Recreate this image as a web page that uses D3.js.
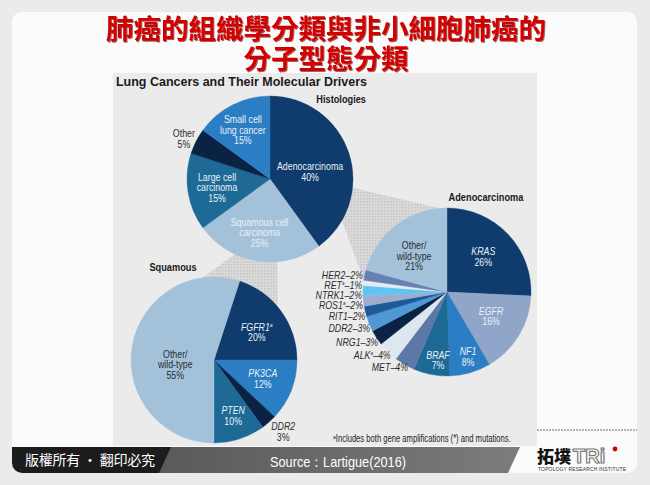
<!DOCTYPE html>
<meta charset='utf-8'>
<head>
    <title>Lung Cancers and Their Molecular Drivers</title>
    <script src='https://cdn.jsdelivr.net/npm/d3@7'></script>
</head>

<style>
    body { margin: 0; background: #ebebeb; }
    svg { display: block; }
    .lbl { font-family: 'Liberation Sans', Arial, sans-serif; font-size: 10.5px; }
    .hdr { font-family: 'Liberation Sans', Arial, sans-serif; font-size: 11px; font-weight: bold; fill: #1a1a1a; }
</style>

<svg></svg>

<script>
    var titleLines = ['肺癌的組織學分類與非小細胞肺癌的', '分子型態分類'];
    var chartTitle = 'Lung Cancers and Their Molecular Drivers';

    // Histologies
    var histNames = ['Adenocarcinoma', 'Squamous cell\ncarcinoma', 'Large cell\ncarcinoma', 'Other', 'Small cell\nlung cancer'];
    var histValues = [40, 25, 15, 5, 15];

    // Adenocarcinoma drivers
    var adenoNames = ['KRAS', 'EGFR', 'NF1', 'BRAF', 'MET', 'ALK', 'NRG1', 'DDR2', 'RIT1', 'ROS1', 'NTRK1', 'RET', 'HER2', 'Other/\nwild-type'];
    var adenoValues = [26, 16, 8, 7, 4, 4, 3, 3, 2, 2, 2, 1, 2, 21];

    // Squamous drivers
    var squamNames = ['FGFR1', 'PK3CA', 'DDR2', 'PTEN', 'Other/\nwild-type'];
    var squamValues = [20, 12, 3, 10, 55];

    var amplified = ['FGFR1', 'ALK', 'ROS1', 'RET'];
    var footnote = 'Includes both gene amplifications (*) and mutations.';

    // colours
    var navy = '#0f3b6d', light = '#a3c2da', teal = '#1d6a97', ink = '#0a2244', mid = '#2b7ec3';
    var histColors = [navy, light, teal, ink, mid];
    var adenoColors = [navy, '#8fa6c9', mid, teal, '#5c78a7', '#dce7ef', ink, '#4f98d4', '#1c5a9a', '#a0abcd', '#5fc4f0', '#e4ecf3', '#6781b0', light];
    var squamColors = [navy, mid, ink, teal, light];

    var W = 650, H = 485, NARROW = 0.84;
    var svg = d3.select('svg').attr('width', W).attr('height', H);
    var rad = Math.PI / 180;

    var defs = svg.append('defs');
    var pat = defs.append('pattern').attr('id', 'dots').attr('width', 3).attr('height', 3).attr('patternUnits', 'userSpaceOnUse');
    pat.append('rect').attr('width', 3).attr('height', 3).attr('fill', '#dadada');
    pat.append('rect').attr('width', 1.5).attr('height', 1.5).attr('fill', '#c4c4c4');
    defs.append('clipPath').attr('id', 'panelClip').append('rect')
        .attr('x', 12).attr('y', 12).attr('width', 625).attr('height', 461).attr('rx', 10);
    var grad = defs.append('linearGradient').attr('id', 'barGrad');
    grad.append('stop').attr('offset', '0%').attr('stop-color', '#5a5a5a');
    grad.append('stop').attr('offset', '100%').attr('stop-color', '#7c7c7c');
    defs.append('filter').attr('id', 'shadow').append('feDropShadow')
        .attr('dx', 1).attr('dy', 1).attr('stdDeviation', 0.3).attr('flood-color', '#600000').attr('flood-opacity', 0.6);

    // white slide panel
    svg.append('rect').attr('x', 12).attr('y', 12).attr('width', 625).attr('height', 461).attr('rx', 10).attr('fill', '#fbfbfb');

    // title
    titleLines.forEach(function (s, i) {
        svg.append('text').attr('x', 326).attr('y', 39 + i * 30).attr('text-anchor', 'middle')
            .attr('font-family', 'Noto Sans CJK TC').attr('font-weight', 700).attr('font-size', 27.5)
            .attr('fill', '#d40000').attr('filter', 'url(#shadow)').text(s);
    });

    // chart picture
    svg.append('rect').attr('x', 113).attr('y', 73).attr('width', 424).attr('height', 373).attr('fill', '#ebebeb');
    svg.append('text').attr('x', 116).attr('y', 86).attr('font-family', 'Liberation Sans, sans-serif')
        .attr('font-weight', 'bold').attr('font-size', 13).attr('fill', '#1a1a1a')
        .attr('textLength', 251).attr('lengthAdjust', 'spacingAndGlyphs').text(chartTitle);

    var pies = {
        hist: {cx: 270, cy: 179, r: 83, start: 0, names: histNames, values: histValues, colors: histColors,
            // label angle (deg), radius fraction, dark text
            lab: [[80, 0.49], [191, 0.655], [261, 0.646], [295, 1.145, 1], [331, 0.675]], italic: false},
        adeno: {cx: 447, cy: 292, r: 84, start: 0, names: adenoNames, values: adenoValues, colors: adenoColors,
            lab: [[46, 0.6], [119, 0.6], [162, 0.81], [187.5, 0.82], null, null, null, null, null, null, null, null, null, [317.5, 0.58, 1]], italic: true},
        squam: {cx: 214, cy: 360, r: 83, start: 18, names: squamNames, values: squamValues, colors: squamColors,
            lab: [[57, 0.615], [111, 0.63], [136, 1.2, 1], [161, 0.71], [263, 0.47, 1]], italic: true}
    };

    function arcsOf(p) {
        return d3.pie().sort(null).value(function (d) { return d; })
            .startAngle(p.start * rad).endAngle(p.start * rad + 2 * Math.PI)(p.values);
    }
    function pt(p, deg, r) {
        var q = d3.pointRadial(deg * rad, r);
        return [p.cx + q[0], p.cy + q[1]];
    }
    // condensed text placed at x, y
    function ntext(x, y, cls) {
        return svg.append('text').attr('class', cls || 'lbl')
            .attr('transform', 'translate(' + x + ',' + y + ') scale(' + NARROW + ',1)');
    }

    // connectors drawn under the pies
    function connector(a, a1, a2, b, b1, b2) {
        var pts = [pt(a, a1, a.r), pt(b, b1, b.r), pt(b, b2, b.r), pt(a, a2, a.r)];
        svg.append('path').attr('d', d3.line()(pts) + 'Z').attr('fill', 'url(#dots)');
    }
    connector(pies.hist, 96, 120, pies.adeno, 355, 278);
    connector(pies.hist, 175, 205, pies.squam, 50, 352);

    function drawPie(p) {
        var arcs = arcsOf(p);
        var arc = d3.arc().innerRadius(0).outerRadius(p.r);
        var g = svg.append('g').attr('transform', 'translate(' + p.cx + ',' + p.cy + ')');
        g.selectAll('path').data(arcs).enter().append('path')
            .attr('d', arc)
            .attr('fill', function (d, i) { return p.colors[i]; })
            .attr('stroke', function (d, i) { return p.colors[i]; })
            .attr('stroke-width', 0.4);

        var rim = [];
        arcs.forEach(function (d, i) {
            var L = p.lab[i];
            var name = p.names[i];
            if (!L) {
                // small adeno slices: one line at the left rim
                var midDeg = (d.startAngle + d.endAngle) / 2 / rad - 3;
                var q = pt(p, midDeg, p.r + 1);
                rim.push({x: q[0], y: q[1], name: name, v: p.values[i]});
                return;
            }
            var q2 = pt(p, L[0], L[1] * p.r);
            var lines = name.split('\n');
            lines.push(p.values[i] + '%');
            var italic = p.italic && name.indexOf('Other') < 0;
            var lh = 10.5;
            var t2 = ntext(q2[0], q2[1]).attr('text-anchor', 'middle')
                .attr('fill', L[2] ? '#2b2b2b' : '#eaf0f6');
            lines.forEach(function (s, j) {
                var ts = t2.append('tspan').attr('x', 0).attr('y', -(lines.length - 1) * lh / 2 + j * lh).attr('dy', '0.35em').text(s);
                if (italic && j < lines.length - 1) ts.attr('font-style', 'italic');
                if (j === 0 && amplified.indexOf(s) >= 0) {
                    t2.append('tspan').attr('font-size', 6).attr('dy', -4).attr('font-style', 'italic').text('a');
                }
            });
        });

        // spread the rim labels upward so they keep clear of each other
        rim.sort(function (a, b) { return b.y - a.y; });
        rim.forEach(function (o, k) {
            if (k > 0) o.y = Math.min(o.y, rim[k - 1].y - 10);
            var t = ntext(o.x, o.y).attr('dy', '0.35em').attr('font-size', 9.6)
                .attr('text-anchor', 'end').attr('font-style', 'italic').attr('fill', '#2b2b2b');
            t.append('tspan').text(o.name);
            if (amplified.indexOf(o.name) >= 0) {
                t.append('tspan').attr('font-size', 5.5).attr('dy', -4).text('a');
                t.append('tspan').attr('dy', 4).text('\u2013' + o.v + '%');
            } else {
                t.append('tspan').text('\u2013' + o.v + '%');
            }
        });
    }
    drawPie(pies.hist);
    drawPie(pies.adeno);
    drawPie(pies.squam);

    ntext(366, 99, 'hdr').attr('dy', '0.35em').attr('text-anchor', 'end').text('Histologies');
    ntext(486, 197, 'hdr').attr('dy', '0.35em').attr('text-anchor', 'middle').text('Adenocarcinoma');
    ntext(173, 267, 'hdr').attr('dy', '0.35em').attr('text-anchor', 'middle').text('Squamous');

    var fn = svg.append('text').attr('class', 'lbl').attr('x', 333).attr('y', 442)
        .attr('font-size', 8).attr('fill', '#222');
    fn.append('tspan').attr('font-size', 5).attr('dy', -3).text('a');
    fn.append('tspan').attr('dy', 3).attr('textLength', 175).attr('lengthAdjust', 'spacingAndGlyphs').text(footnote);

    // footer bar
    var foot = svg.append('g').attr('clip-path', 'url(#panelClip)');
    foot.append('path').attr('d', 'M0,447H176L164,473H0Z').attr('fill', '#1c1c1c');
    foot.append('path').attr('d', 'M171,447H520L508,473H159Z').attr('fill', 'url(#barGrad)');
    foot.append('text').attr('x', 25).attr('y', 465).attr('font-family', 'Noto Sans CJK TC').attr('font-size', 14)
        .attr('fill', '#fff').attr('textLength', 130).text('版權所有 · 翻印必究');
    foot.append('text').attr('x', 338).attr('y', 467).attr('text-anchor', 'middle')
        .attr('font-family', 'Liberation Sans, sans-serif').attr('font-size', 15)
        .attr('textLength', 136).attr('lengthAdjust', 'spacingAndGlyphs')
        .attr('fill', '#fff').text('Source：Lartigue(2016)');

    // logo
    svg.append('line').attr('x1', 537).attr('x2', 637).attr('y1', 430).attr('y2', 430)
        .attr('stroke', '#b5b5b5').attr('stroke-width', 2).attr('stroke-dasharray', '2,1');
    svg.append('text').attr('x', 537).attr('y', 463).attr('font-family', 'Noto Sans CJK TC').attr('font-weight', 900)
        .attr('font-size', 17).attr('fill', '#111').text('拓墣');
    svg.append('text').attr('x', 573).attr('y', 463).attr('font-family', 'Liberation Sans, sans-serif').attr('font-weight', 'bold')
        .attr('font-size', 20).attr('fill', '#fff').attr('stroke', '#777').attr('stroke-width', 1.2).text('TRi');
    svg.append('circle').attr('cx', 615).attr('cy', 449).attr('r', 2.4).attr('fill', '#d40000');
    svg.append('text').attr('x', 538).attr('y', 471).attr('font-family', 'Liberation Sans, sans-serif')
        .attr('font-size', 5).attr('fill', '#333').attr('textLength', 88).text('TOPOLOGY RESEARCH INSTITUTE');
</script>
